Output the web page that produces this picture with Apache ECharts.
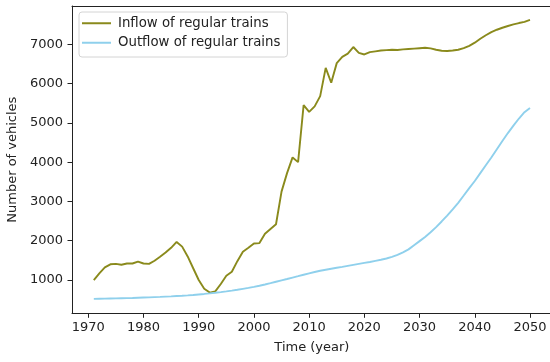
<!DOCTYPE html>
<html>
<head>
<meta charset="utf-8">
<script src="https://cdn.jsdelivr.net/npm/echarts@6/dist/echarts.min.js"></script>
<style>
html,body{margin:0;padding:0;background:#fff;}
#chart{width:550px;height:362px;}
</style>
</head>
<body>
<div id="chart"></div>
<script>
const years = [1971,1972,1973,1974,1975,1976,1977,1978,1979,1980,
  1981,1982,1983,1984,1985,1986,1987,1988,1989,1990,
  1991,1992,1993,1994,1995,1996,1997,1998,1999,2000,
  2001,2002,2003,2004,2005,2006,2007,2008,2009,2010,
  2011,2012,2013,2014,2015,2016,2017,2018,2019,2020,
  2021,2022,2023,2024,2025,2026,2027,2028,2029,2030,
  2031,2032,2033,2034,2035,2036,2037,2038,2039,2040,
  2041,2042,2043,2044,2045,2046,2047,2048,2049,2050];

const inflow = [1000,1170,1320,1400,1410,1390,1420,1420,1470,1420,
  1410,1490,1590,1700,1820,1970,1850,1600,1300,1000,
  780,680,710,900,1110,1210,1480,1720,1820,1930,
  1940,2180,2300,2420,3250,3720,4120,4000,5450,5280,
  5420,5680,6400,6020,6520,6680,6760,6930,6780,6740,
  6800,6820,6840,6850,6860,6855,6870,6880,6890,6900,
  6910,6895,6860,6835,6830,6840,6860,6900,6960,7040,
  7140,7230,7310,7370,7420,7465,7505,7540,7570,7620];

const outflow = [520,523,526,529,532,536,540,544,549,554,
  559,565,571,578,585,593,601,610,620,633,
  646,660,675,692,710,730,752,776,800,825,
  855,887,920,955,990,1025,1062,1098,1135,1170,
  1205,1235,1262,1288,1312,1335,1360,1385,1410,1435,
  1460,1488,1515,1548,1590,1640,1705,1780,1885,1990,
  2095,2215,2345,2490,2640,2800,2965,3150,3340,3520,
  3720,3920,4120,4330,4540,4740,4930,5110,5270,5380];

const xTicks = [1970,1980,1990,2000,2010,2020,2030,2040,2050];
const yTicks = [1000,2000,3000,4000,5000,6000,7000];

const seriesNames = ['Inflow of regular trains','Outflow of regular trains'];
const seriesColors = ['#8a8a1c','#8fd0ec'];

const font = 'DejaVu Sans';
const textColor = '#222';
const fs = 13;
const xMin = 1967.05, xMax = 2053.95;

const chart = echarts.init(document.getElementById('chart'), null, {renderer:'canvas'});
chart.setOption({
  animation:false,
  backgroundColor:'#fff',
  grid:{left:72,top:6,width:479.8,height:307.3,show:false,outerBoundsMode:'none'},
  legend:{
    orient:'vertical',left:79,top:12,
    data:seriesNames,
    icon:'rect',itemWidth:29,itemHeight:2,itemGap:5,
    padding:[4,7,7,3],
    backgroundColor:'rgba(255,255,255,0.8)',
    borderColor:'#d4d4d4',borderWidth:1,borderRadius:3,
    textStyle:{fontFamily:font,fontSize:13.3,color:textColor,lineHeight:14.5,padding:[0,0,0,2]}
  },
  xAxis:[{
    type:'value',min:xMin,max:xMax,position:'bottom',
    name:'Time (year)',nameLocation:'middle',nameGap:28,
    nameTextStyle:{fontFamily:font,fontSize:fs,color:textColor},
    axisLine:{show:true,lineStyle:{color:'#222',width:1}},
    axisTick:{show:true,length:4.5,lineStyle:{color:'#222'},customValues:xTicks},
    axisLabel:{fontFamily:font,fontSize:fs,color:textColor,margin:8,customValues:xTicks,formatter:v=>String(v)},
    splitLine:{show:false}
  },{
    type:'value',min:xMin,max:xMax,position:'top',
    axisLine:{show:true,onZero:false,lineStyle:{color:'#222',width:1}},
    axisTick:{show:false},axisLabel:{show:false},splitLine:{show:false}
  }],
  yAxis:{
    type:'value',min:153,max:7974,
    name:'Number of vehicles',nameLocation:'middle',nameGap:46,
    nameTextStyle:{fontFamily:font,fontSize:fs,color:textColor},
    axisLine:{show:true,lineStyle:{color:'#222',width:1}},
    axisTick:{show:true,length:4.5,lineStyle:{color:'#222'},customValues:yTicks},
    axisLabel:{fontFamily:font,fontSize:fs,color:textColor,margin:9,customValues:yTicks,formatter:v=>String(v)},
    splitLine:{show:false}
  },
  series:[
    {name:seriesNames[0],type:'line',symbol:'none',smooth:false,xAxisIndex:0,
     data:years.map((y,i)=>[y,inflow[i]]),
     lineStyle:{color:seriesColors[0],width:1.9},itemStyle:{color:seriesColors[0]}},
    {name:seriesNames[1],type:'line',symbol:'none',smooth:false,xAxisIndex:0,
     data:years.map((y,i)=>[y,outflow[i]]),
     lineStyle:{color:seriesColors[1],width:1.9},itemStyle:{color:seriesColors[1]}}
  ]
});
</script>
</body>
</html>
